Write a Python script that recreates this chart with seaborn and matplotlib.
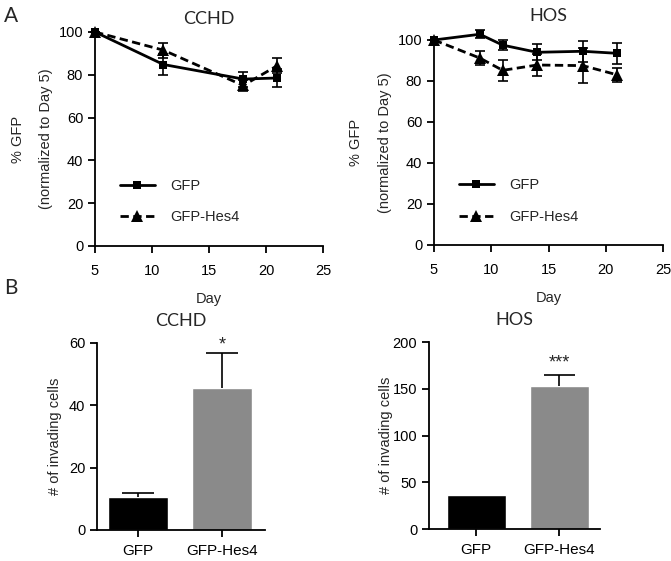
import pandas as pd
import numpy as np
import seaborn as sns
import matplotlib.pyplot as plt

# --- data ---
cchd_days = [5, 11, 18, 21]
cchd_gfp = [100, 84.8, 78.0, 78.5]
cchd_gfp_sem = [0, 4.8, 3.5, 4.0]
cchd_hes4 = [100, 91.5, 75.0, 84.3]
cchd_hes4_sem = [0, 3.5, 2.5, 3.5]

hos_days = [5, 9, 11, 14, 18, 21]
hos_gfp = [100, 102.8, 97.5, 94.0, 94.5, 93.5]
hos_gfp_sem = [0, 2.0, 2.5, 4.0, 5.0, 5.0]
hos_hes4 = [100, 91.2, 85.2, 87.8, 87.5, 83.0]
hos_hes4_sem = [0, 3.5, 5.0, 5.5, 8.5, 3.5]

groups = ['GFP', 'GFP-Hes4']
cchd_inv = [10.7, 45.5]
cchd_inv_err = [1.2, 11.3]
hos_inv = [36.0, 152.5]
hos_inv_err = [0.0, 12.5]

# --- style ---
sns.set_theme(style="ticks")
plt.rcParams['font.family'] = ['Liberation Sans', 'DejaVu Sans']
plt.rcParams['axes.linewidth'] = 1.3
plt.rcParams['xtick.major.width'] = 1.3
plt.rcParams['ytick.major.width'] = 1.3
plt.rcParams['xtick.major.size'] = 5
plt.rcParams['ytick.major.size'] = 5
plt.rcParams['xtick.color'] = 'black'
plt.rcParams['ytick.color'] = 'black'
plt.rcParams['axes.edgecolor'] = 'black'

title_font = dict(family=['Lato', 'DejaVu Sans'], fontsize=13)
tick_size = 10.5

fig = plt.figure(figsize=(6.71, 5.61), dpi=100)


def line_panel(rect, days, gfp, gfp_sem, hes4, hes4_sem, title, title_pad):
    ax = fig.add_axes(rect)
    df = pd.DataFrame({
        'Day': list(days) * 2,
        'pct': list(gfp) + list(hes4),
        'group': ['GFP'] * len(days) + ['GFP-Hes4'] * len(days),
    })
    sns.lineplot(data=df, x='Day', y='pct', style='group', color='black',
                 markers={'GFP': 's', 'GFP-Hes4': '^'},
                 dashes={'GFP': '', 'GFP-Hes4': (3, 1.6)},
                 linewidth=2.0, markersize=6, markeredgewidth=0, ax=ax)
    ax.errorbar(days, gfp, yerr=gfp_sem, fmt='none', ecolor='black',
                elinewidth=1.2, capsize=3.5, capthick=1.2, clip_on=False)
    ax.errorbar(days, hes4, yerr=hes4_sem, fmt='none', ecolor='black',
                elinewidth=1.2, capsize=3.5, capthick=1.2, clip_on=False)
    for ln in ax.lines:
        ln.set_clip_on(False)
        if ln.get_marker() == '^':
            ln.set_markersize(8)
    ax.set_xlim(5, 25)
    ax.set_ylim(0, 100)
    ax.set_xticks([5, 10, 15, 20, 25])
    ax.set_yticks([0, 20, 40, 60, 80, 100])
    ax.tick_params(labelsize=tick_size, direction='out')
    ax.tick_params(axis='x', pad=8)
    ax.set_xlabel('Day', fontsize=tick_size, labelpad=10)
    ax.set_ylabel('% GFP\n(normalized to Day 5)', fontsize=tick_size,
                  linespacing=2.3)
    ax.yaxis.set_label_coords(-0.185, 0.5)
    ax.set_title(title, pad=title_pad, **title_font)
    leg = ax.legend(loc='lower left', bbox_to_anchor=(0.05, 0.04),
                    frameon=False, fontsize=tick_size, handlelength=2.4,
                    labelspacing=1.2, handletextpad=1.1)
    for h in leg.get_lines():
        if h.get_marker() == '^':
            h.set_markersize(8)
    sns.despine(ax=ax)
    return ax


def bar_panel(rect, vals, errs, ymax, ystep, star, star_y, xlim, title):
    ax = fig.add_axes(rect)
    sns.barplot(x=groups, y=vals, hue=groups, palette=['black', '#8a8a8a'],
                width=0.71, legend=False, ax=ax)
    # one-sided (upward) error bars, Prism style
    for i, (v, e) in enumerate(zip(vals, errs)):
        if e > 0:
            ax.vlines(i, v, v + e, color='black', linewidth=1.2)
            ax.hlines(v + e, i - 0.19, i + 0.19, color='black', linewidth=1.2)
    ax.text(1, star_y, star, ha='center', va='center', fontsize=13)
    ax.set_xlim(*xlim)
    ax.set_ylim(0, ymax)
    ax.set_yticks(np.arange(0, ymax + 1, ystep))
    ax.tick_params(labelsize=tick_size, direction='out')
    ax.tick_params(axis='x', pad=5, labelsize=11)
    ax.set_ylabel('# of invading cells', fontsize=tick_size)
    ax.yaxis.set_label_coords(-0.21, 0.5)
    ax.set_title(title, pad=12, **title_font)
    sns.despine(ax=ax)
    return ax


line_panel([0.1416, 0.5615, 0.3398, 0.3815], cchd_days, cchd_gfp, cchd_gfp_sem,
           cchd_hes4, cchd_hes4_sem, 'CCHD', 6)
line_panel([0.6468, 0.5633, 0.3413, 0.3654], hos_days, hos_gfp, hos_gfp_sem,
           hos_hes4, hos_hes4_sem, 'HOS', 14)

bar_panel([0.1446, 0.0553, 0.2504, 0.3333], cchd_inv, cchd_inv_err, 60, 20,
          '*', 59.5, (-0.49, 1.51), 'CCHD')
bar_panel([0.6393, 0.0570, 0.2548, 0.3333], hos_inv, hos_inv_err, 200, 50,
          '***', 178, (-0.57, 1.49), 'HOS')

fig.text(0.006, 0.99, 'A', ha='left', va='top',
         family=['Lato', 'DejaVu Sans'], fontsize=15)
fig.text(0.006, 0.505, 'B', ha='left', va='top',
         family=['Lato', 'DejaVu Sans'], fontsize=15)

plt.savefig('out.png', dpi=100)
